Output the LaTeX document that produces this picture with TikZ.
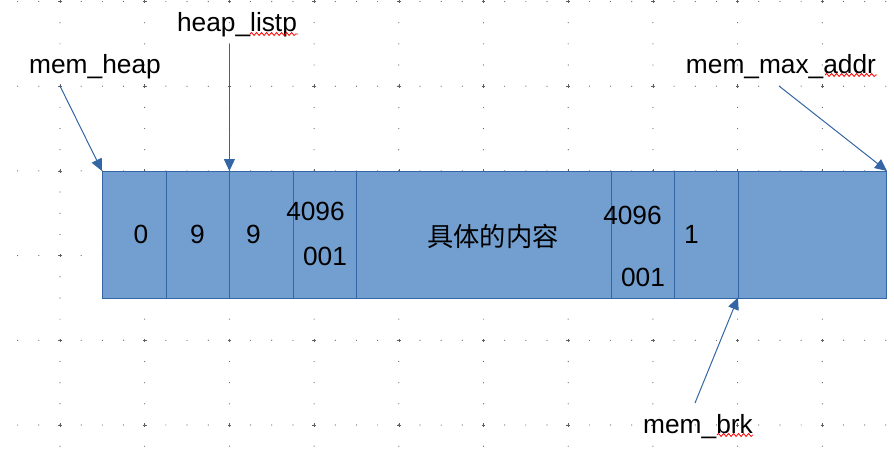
\documentclass[tikz,border=0pt]{standalone}
\usepackage{fontspec}
\setmainfont{Liberation Sans}
\newfontfamily\cjk{Noto Sans CJK SC}
\usetikzlibrary{arrows.meta,decorations.pathmorphing}
\definecolor{cellblue}{HTML}{729FCF}
\definecolor{edgeblue}{HTML}{3465A4}
\definecolor{dotgray}{HTML}{606060}
\tikzset{
  heapbox/.style={draw=edgeblue,fill=cellblue,line width=1pt,inner sep=0pt},
  cellline/.style={edgeblue,line width=1pt},
  ptr/.style={edgeblue,line width=1pt,-{Triangle[length=12pt,width=11pt]}},
  lbl/.style={anchor=base,inner sep=0pt,font=\fontsize{26.3}{30}\selectfont},
  spell/.style={red,line width=0.8pt,decorate,decoration={snake,amplitude=1.5pt,segment length=5pt}},
}
\begin{document}
\begin{tikzpicture}[x=1pt,y=-1pt]
\useasboundingbox (0,0) rectangle (894,453);
% グリッド
\foreach \i in {0,...,9}
  \foreach \j in {0,...,21}
    \fill[dotgray] ({60+84.7*\i},{1.5+21.175*\j}) circle[radius=0.6pt];
\foreach \j in {0,...,5}
  \foreach \i in {-2,...,39}
    \fill[dotgray] ({60+21.175*\i},{1.5+84.7*\j}) circle[radius=0.6pt];
\foreach \i in {0,...,9}
  \foreach \j in {0,...,5}
    \draw[dotgray,line width=0.6pt] ({60+84.7*\i-1.8},{1.5+84.7*\j}) -- ++(3.6,0)
      ({60+84.7*\i},{1.5+84.7*\j-1.8}) -- ++(0,3.6);
% ヒープ領域
\node[heapbox,anchor=north west,minimum width=784pt,minimum height=126.5pt] (heap) at (102,171) {};
\foreach \x in {166,229.4,293,356,611,674,738}
  \draw[cellline] (\x,171) -- (\x,297.5);
% セルの中身
\node[lbl] (c0) at (141,243) {0};
\node[lbl] (c1) at (197.5,243) {9};
\node[lbl] (c2) at (253.5,243) {9};
\node[lbl] (c3a) at (315.5,220) {4096};
\node[lbl] (c3b) at (325,265) {001};
\node[lbl,font=\cjk\fontsize{26.3}{30}\selectfont] (body) at (493,246) {具体的内容};
\node[lbl] (c5a) at (632.5,224) {4096};
\node[lbl] (c5b) at (643,286) {001};
\node[lbl] (c6) at (691.5,243) {1};
% ラベル
\node[lbl] (heaplabel) at (95,73) {mem\_heap};
\node[lbl] (listplabel) at (237,31) {heap\_listp};
\node[lbl] (maxlabel) at (781,73) {mem\_max\_addr};
\node[lbl] (brklabel) at (698,433) {mem\_brk};
\draw[spell] (250,34) -- (298,34);
\draw[spell] (825,75) -- (877,75);
\draw[spell] (717,435) -- (753,435);
% 矢印
\coordinate (heapfrom) at (60,86);
\coordinate (listpfrom) at (229.4,44);
\coordinate (maxfrom) at (779,86);
\coordinate (brkfrom) at (695,403);
\coordinate (listpto) at (229.4,171);
\coordinate (brkto) at (738,297.5);
\draw[ptr] (heapfrom) -- (heap.north west);
\draw[ptr] (listpfrom) -- (listpto);
\draw[ptr] (maxfrom) -- (heap.north east);
\draw[ptr] (brkfrom) -- (brkto);
\end{tikzpicture}
\end{document}
